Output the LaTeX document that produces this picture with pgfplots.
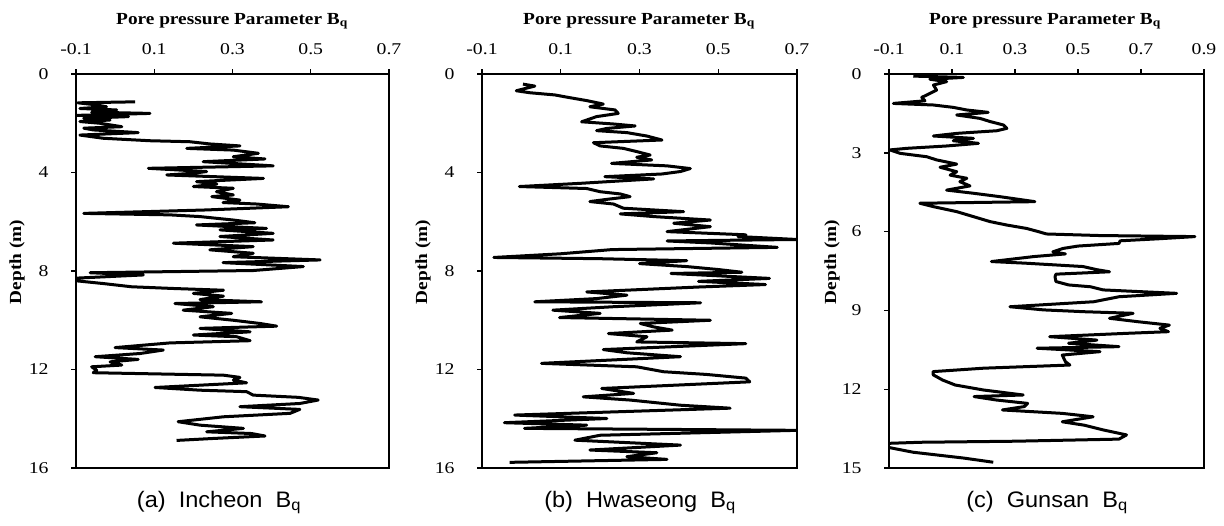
\documentclass[border=0pt]{standalone}
\usepackage{fontspec}
\setmainfont{Liberation Serif}
\newfontfamily\titlefont[FakeStretch=1.14]{Liberation Serif}
\newfontfamily\tickfont[FakeStretch=1.2]{Liberation Serif}
\newfontfamily\capfont[FakeStretch=1.05]{Liberation Sans}
\usepackage{pgfplots}
\pgfplotsset{compat=1.18}
\pgfplotsset{
  bqstyle/.style={
    scale only axis, height=394bp,
    y dir=reverse, ymin=0,
    axis line style={line width=1.7bp},
    tick align=outside,
    xtick pos=right, xticklabel pos=right,
    ytick pos=left,
    major tick length=5bp,
    every tick/.style={black, line width=1.4bp},
    tick label style={font=\tickfont\fontsize{16.5}{18}\selectfont},
    xticklabel shift=11bp,
    yticklabel shift=19bp,
    clip=true,
  },
  curve/.style={black, line width=3bp, line join=round, mark=none},
}
\begin{document}
\begin{tikzpicture}
\path[use as bounding box] (0,0) rectangle (1224bp,-526bp);
% (a) Incheon
\begin{axis}[bqstyle, width=313bp, at={(232.5bp,-271bp)}, anchor=center,
  xmin=-0.1, xmax=0.7, xtick={-0.1,0.1,0.3,0.5,0.7}, xticklabels={-0.1,0.1,0.3,0.5,0.7},
  ymax=16, ytick={0,4,8,12,16}, yticklabels={0,4,8,12,16}]
\addplot[curve] coordinates {
(0.051,1.13) (-0.095,1.17) (-0.05,1.25) (-0.022,1.33) (-0.09,1.40) (0.004,1.46) (-0.06,1.55) (0.089,1.60) (-0.098,1.68) (0.034,1.73) (-0.08,1.80) (-0.013,1.87) (-0.09,1.93) (-0.039,2.0) (0.017,2.14) (-0.08,2.2) (-0.056,2.27) (0.059,2.38) (-0.09,2.48) (-0.03,2.61) (0.089,2.71) (0.191,2.75) (0.242,2.84) (0.319,2.92) (0.183,3.02) (0.302,3.09) (0.366,3.22) (0.302,3.36) (0.383,3.45) (0.225,3.56) (0.404,3.73) (0.085,3.83) (0.234,3.96) (0.2,4.03) (0.132,4.10) (0.379,4.24) (0.208,4.37) (0.26,4.47) (0.2,4.57) (0.302,4.64) (0.259,4.78) (0.302,4.91) (0.247,4.98) (0.319,5.12) (0.276,5.22) (0.362,5.28) (0.443,5.39) (0.234,5.52) (-0.08,5.66) (0.14,5.72) (0.217,5.79) (0.302,5.93) (0.357,6.04) (0.208,6.13) (0.387,6.27) (0.268,6.33) (0.404,6.47) (0.268,6.60) (0.404,6.74) (0.149,6.87) (0.353,7.01) (0.242,7.14) (0.353,7.28) (0.302,7.42) (0.524,7.55) (0.276,7.66) (0.481,7.82) (0.353,7.98) (-0.064,8.07) (0.072,8.16) (-0.1,8.29) (-0.098,8.40) (-0.03,8.51) (0.042,8.64) (0.149,8.71) (0.277,8.78) (0.2,8.91) (0.277,9.02) (0.217,9.16) (0.374,9.25) (0.153,9.32) (0.251,9.45) (0.174,9.59) (0.298,9.72) (0.217,9.86) (0.302,10.0) (0.370,10.13) (0.413,10.24) (0.217,10.33) (0.345,10.47) (0.2,10.6) (0.311,10.67) (0.345,10.83) (0.14,10.92) (0.0,11.11) (0.123,11.21) (0.064,11.35) (-0.051,11.48) (0.059,11.59) (-0.013,11.69) (0.017,11.82) (-0.06,11.89) (-0.047,12.03) (-0.056,12.13) (0.277,12.23) (0.319,12.32) (0.302,12.43) (0.336,12.54) (0.102,12.73) (0.217,12.84) (0.336,12.9) (0.353,13.04) (0.468,13.13) (0.519,13.24) (0.472,13.38) (0.319,13.51) (0.472,13.62) (0.447,13.78) (0.277,13.92) (0.161,14.12) (0.217,14.26) (0.328,14.39) (0.234,14.53) (0.349,14.6) (0.383,14.7) (0.251,14.8) (0.157,14.88)
};
\end{axis}
% (b) Hwaseong
\begin{axis}[bqstyle, width=315bp, at={(639.5bp,-271bp)}, anchor=center,
  xmin=-0.1, xmax=0.7, xtick={-0.1,0.1,0.3,0.5,0.7}, xticklabels={-0.1,0.1,0.3,0.5,0.7},
  ymax=16, ytick={0,4,8,12,16}, yticklabels={0,4,8,12,16}]
\addplot[curve] coordinates {
(0.004,0.41) (0.034,0.49) (0.012,0.58) (-0.013,0.68) (0.021,0.76) (0.085,0.85) (0.119,0.95) (0.166,1.08) (0.208,1.22) (0.174,1.33) (0.238,1.46) (0.246,1.60) (0.191,1.73) (0.153,1.94) (0.234,2.03) (0.289,2.11) (0.217,2.21) (0.191,2.30) (0.268,2.38) (0.319,2.52) (0.357,2.68) (0.183,2.79) (0.2,2.92) (0.259,3.02) (0.293,3.15) (0.327,3.29) (0.293,3.38) (0.331,3.49) (0.229,3.63) (0.37,3.73) (0.429,3.84) (0.404,3.96) (0.357,4.06) (0.212,4.17) (0.336,4.26) (0.149,4.44) (-0.005,4.57) (0.166,4.65) (0.2,4.78) (0.251,4.87) (0.276,4.98) (0.217,5.09) (0.174,5.18) (0.234,5.28) (0.259,5.45) (0.412,5.59) (0.251,5.68) (0.336,5.79) (0.48,5.93) (0.387,6.06) (0.48,6.2) (0.37,6.4) (0.57,6.53) (0.55,6.6) (0.7,6.72) (0.37,6.78) (0.48,6.86) (0.65,7.04) (0.23,7.13) (0.1,7.3) (-0.07,7.45) (0.2,7.5) (0.42,7.58) (0.3,7.7) (0.42,7.82) (0.5,7.94) (0.56,8.05) (0.38,8.1) (0.63,8.3) (0.45,8.42) (0.62,8.55) (0.45,8.65) (0.166,8.85) (0.268,8.98) (0.191,9.12) (0.034,9.25) (0.455,9.29) (0.234,9.45) (0.08,9.59) (0.2,9.72) (0.097,9.89) (0.48,10.0) (0.302,10.13) (0.336,10.27) (0.383,10.4) (0.221,10.54) (0.319,10.67) (0.293,10.88) (0.57,10.95) (0.208,11.19) (0.268,11.32) (0.404,11.48) (0.051,11.75) (0.293,11.89) (0.361,12.09) (0.47,12.2) (0.57,12.35) (0.58,12.5) (0.204,12.77) (0.285,12.97) (0.157,13.11) (0.276,13.24) (0.404,13.45) (0.53,13.57) (-0.017,13.85) (0.217,13.99) (-0.043,14.16) (0.166,14.26) (0.008,14.39) (0.7,14.47) (0.2,14.67) (0.136,14.87) (0.404,15.07) (0.174,15.27) (0.344,15.38) (0.268,15.54) (0.37,15.65) (-0.03,15.77)
};
\end{axis}
% (c) Gunsan
\begin{axis}[bqstyle, width=315bp, at={(1046.5bp,-271bp)}, anchor=center,
  xmin=-0.1, xmax=0.9, xtick={-0.1,0.1,0.3,0.5,0.7,0.9}, xticklabels={-0.1,0.1,0.3,0.5,0.7,0.9},
  ymax=15, ytick={0,3,6,9,12,15}, yticklabels={0,3,6,9,12,15}]
\addplot[curve] coordinates {
(-0.023,0.08) (0.136,0.13) (0.03,0.2) (0.083,0.29) (0.041,0.42) (0.051,0.61) (0.03,0.74) (0.004,0.89) (0.014,1.02) (-0.086,1.12) (0.041,1.18) (0.104,1.27) (0.147,1.37) (0.215,1.46) (0.115,1.56) (0.189,1.69) (0.221,1.81) (0.263,1.94) (0.274,2.07) (0.242,2.16) (0.115,2.26) (0.041,2.36) (0.168,2.45) (0.104,2.54) (0.184,2.64) (0.083,2.74) (-0.044,2.83) (-0.097,2.89) (-0.065,3.02) (0.02,3.15) (0.051,3.27) (0.115,3.43) (0.062,3.55) (0.115,3.72) (0.094,3.85) (0.147,3.97) (0.125,4.1) (0.157,4.26) (0.083,4.42) (0.168,4.54) (0.252,4.67) (0.363,4.86) (-0.002,4.92) (0.041,5.05) (0.115,5.24) (0.168,5.43) (0.221,5.62) (0.274,5.75) (0.337,5.88) (0.374,6.0) (0.4,6.09) (0.57,6.15) (0.871,6.19) (0.76,6.27) (0.634,6.35) (0.63,6.45) (0.5,6.55) (0.453,6.64) (0.42,6.77) (0.46,6.85) (0.36,6.95) (0.225,7.14) (0.33,7.2) (0.516,7.33) (0.56,7.45) (0.6,7.53) (0.43,7.62) (0.427,7.72) (0.43,7.9) (0.47,8.03) (0.54,8.1) (0.58,8.22) (0.813,8.35) (0.63,8.48) (0.55,8.67) (0.284,8.86) (0.39,8.98) (0.52,9.05) (0.675,9.11) (0.6,9.3) (0.69,9.43) (0.79,9.56) (0.76,9.68) (0.787,9.81) (0.66,9.87) (0.41,10.0) (0.56,10.13) (0.47,10.25) (0.63,10.38) (0.37,10.44) (0.57,10.57) (0.45,10.7) (0.46,10.95) (0.474,11.08) (0.2,11.2) (0.04,11.33) (0.04,11.45) (0.07,11.65) (0.11,11.84) (0.2,12.03) (0.326,12.22) (0.17,12.28) (0.24,12.41) (0.34,12.54) (0.33,12.66) (0.26,12.79) (0.45,12.92) (0.548,13.05) (0.45,13.24) (0.52,13.37) (0.58,13.55) (0.654,13.74) (0.63,13.9) (0.3,13.98) (0.0,14.02) (-0.1,14.06) (-0.12,14.15) (-0.1,14.22) (-0.023,14.4) (0.136,14.62) (0.231,14.78)
};
\end{axis}
% titles
\foreach \cx in {232,639,1045}{
  \node[anchor=base, font=\titlefont\bfseries\fontsize{17}{19}\selectfont] at (\cx bp,-24bp) {Pore pressure Parameter B\textsubscript{q}};
}
\foreach \lx in {17,423,832}{
  \node[rotate=90, font=\titlefont\bfseries\fontsize{17}{19}\selectfont] at (\lx bp,-262bp) {Depth (m)};
}
\node[anchor=base, font=\capfont\fontsize{22.5}{24}\selectfont] at (219bp,-507bp) {(a)\ \ Incheon\ \ B\textsubscript{q}};
\node[anchor=base, font=\capfont\fontsize{22.5}{24}\selectfont] at (640bp,-507bp) {(b)\ \ Hwaseong\ \ B\textsubscript{q}};
\node[anchor=base, font=\capfont\fontsize{22.5}{24}\selectfont] at (1047bp,-507bp) {(c)\ \ Gunsan\ \ B\textsubscript{q}};
\end{tikzpicture}
\end{document}
